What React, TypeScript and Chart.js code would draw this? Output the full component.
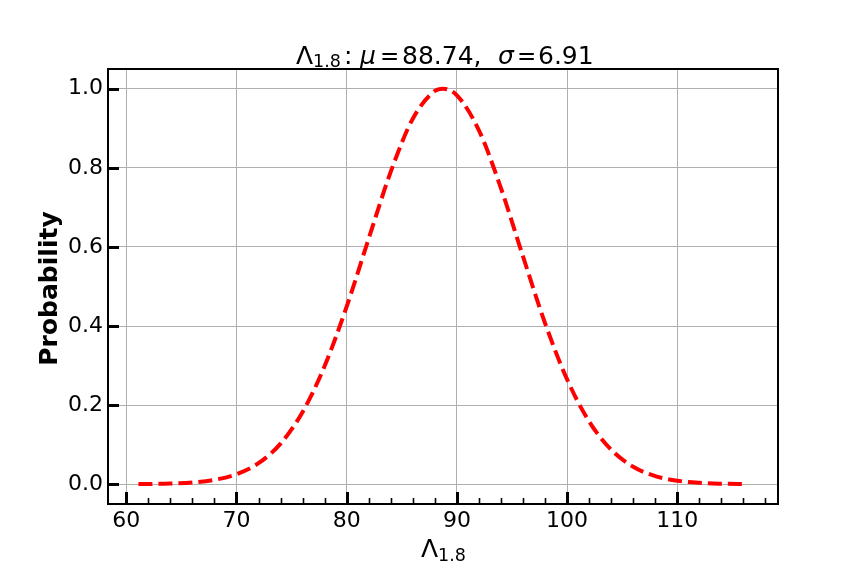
import React, { useEffect, useRef } from "react";
import { Chart, registerables } from "chart.js";

Chart.register(...registerables);

// Data (normalized Gaussian, mu=88.74, sigma=6.91)
const xValues = [61.1, 62, 64, 66, 68, 70, 72, 74, 76, 78, 80, 82, 84, 86, 88, 88.74, 90, 92, 94, 96, 98, 100, 102, 104, 106, 108, 110, 112, 114, 116, 116.38];
const yValues = [0.0003, 0.0006, 0.0017, 0.0045, 0.0111, 0.0253, 0.0532, 0.1028, 0.1828, 0.2989, 0.4494, 0.6214, 0.7903, 0.9244, 0.9943, 1.0, 0.9835, 0.8947, 0.7485, 0.5759, 0.4074, 0.2651, 0.1587, 0.0873, 0.0442, 0.0206, 0.0088, 0.0035, 0.0013, 0.0004, 0.0003];
const xTicks = [60, 70, 80, 90, 100, 110];
const xMinorTicks = [62, 64, 66, 68, 72, 74, 76, 78, 82, 84, 86, 88, 92, 94, 96, 98, 102, 104, 106, 108, 112, 114, 116, 118];
const yTicks = [0, 0.2, 0.4, 0.6, 0.8, 1.0];
const xRange = [58.34, 119.14];
const yRange = [-0.05, 1.05];

const FONT = '"DejaVu Sans"';

type Run = { t: string; size: number; italic?: boolean; bold?: boolean; dy?: number; at: number };

// runs placed at offsets (px) relative to the horizontal centre
function drawRuns(ctx: CanvasRenderingContext2D, runs: Run[], cx: number, baseline: number) {
  ctx.textAlign = "left";
  ctx.textBaseline = "alphabetic";
  ctx.fillStyle = "#000";
  runs.forEach((r) => {
    ctx.font = `${r.italic ? "italic " : ""}${r.bold ? "bold " : ""}${r.size}px ${FONT}`;
    ctx.fillText(r.t, cx + r.at, baseline + (r.dy || 0));
  });
}

const decorPlugin = {
  id: "decor",
  afterDraw(chart: any) {
    const ctx: CanvasRenderingContext2D = chart.ctx;
    const { left, right, top, bottom } = chart.chartArea;
    const xs = chart.scales.x;
    const ys = chart.scales.y;
    ctx.save();
    // ticks (inward)
    ctx.strokeStyle = "#000";
    ctx.lineWidth = 3;
    xTicks.forEach((v) => {
      const px = Math.round(xs.getPixelForValue(v)) + 0.5;
      ctx.beginPath();
      ctx.moveTo(px, bottom);
      ctx.lineTo(px, bottom - 12);
      ctx.stroke();
    });
    yTicks.forEach((v) => {
      const py = Math.round(ys.getPixelForValue(v)) + 0.5;
      ctx.beginPath();
      ctx.moveTo(left, py);
      ctx.lineTo(left + 11, py);
      ctx.stroke();
    });
    ctx.lineWidth = 1.6;
    xMinorTicks.forEach((v) => {
      const px = Math.round(xs.getPixelForValue(v)) + 0.5;
      ctx.beginPath();
      ctx.moveTo(px, bottom);
      ctx.lineTo(px, bottom - 6);
      ctx.stroke();
    });
    // spines
    ctx.lineWidth = 2;
    ctx.strokeRect(left, top, right - left, bottom - top);

    // title
    const cx = (left + right) / 2;
    drawRuns(
      ctx,
      [
        { t: "Λ", size: 25, at: -147 },
        { t: "1.8", size: 17.5, dy: 3, at: -130 },
        { t: ":", size: 25, at: -99 },
        { t: "μ", size: 25, italic: true, at: -83 },
        { t: "=", size: 23, at: -63 },
        { t: "88.74,", size: 25, at: -41 },
        { t: "σ", size: 25, italic: true, at: 55 },
        { t: "=", size: 23, at: 74 },
        { t: "6.91", size: 25, at: 95 },
      ],
      cx,
      64
    );

    // x label
    drawRuns(
      ctx,
      [
        { t: "Λ", size: 25, at: -22 },
        { t: "1.8", size: 17.5, dy: 4, at: -5 },
      ],
      cx,
      557
    );

    // y label
    ctx.save();
    ctx.translate(57, (top + bottom) / 2 + 2);
    ctx.rotate(-Math.PI / 2);
    ctx.font = `bold 25px ${FONT}`;
    ctx.textAlign = "center";
    ctx.textBaseline = "alphabetic";
    ctx.fillStyle = "#000";
    ctx.fillText("Probability", 0, 0);
    ctx.restore();

    ctx.restore();
  },
};

export default function App() {
  const ref = useRef<HTMLCanvasElement | null>(null);
  useEffect(() => {
    if (!ref.current) return;
    const chart = new Chart(ref.current, {
      type: "scatter",
      data: {
        datasets: [
          {
            data: xValues.map((x, i) => ({ x, y: yValues[i] })),
            showLine: true,
            borderColor: "#ff0000",
            borderWidth: 4,
            borderDash: [14, 6],
            pointRadius: 0,
            fill: false,
            cubicInterpolationMode: "monotone",
          } as any,
        ],
      },
      options: {
        responsive: false,
        animation: false,
        devicePixelRatio: 1,
        layout: { padding: { top: 69, right: 86, left: 0, bottom: 0 } },
        plugins: {
          legend: { display: false },
          title: { display: false },
          tooltip: { enabled: false },
        },
        scales: {
          x: {
            type: "linear",
            min: xRange[0],
            max: xRange[1],
            afterBuildTicks: (s: any) => {
              s.ticks = xTicks.map((v) => ({ value: v }));
            },
            afterFit: (s: any) => {
              s.height = 72;
            },
            grid: { color: "#b0b0b0", lineWidth: 1, drawTicks: false },
            border: { display: false },
            ticks: {
              font: { family: "DejaVu Sans", size: 22 },
              color: "#000",
              padding: 4,
              maxRotation: 0,
              autoSkip: false,
              callback: (v: any) => String(v),
            },
          },
          y: {
            type: "linear",
            min: yRange[0],
            max: yRange[1],
            afterBuildTicks: (s: any) => {
              s.ticks = yTicks.map((v) => ({ value: v }));
            },
            afterFit: (s: any) => {
              s.width = 108;
            },
            grid: { color: "#b0b0b0", lineWidth: 1, drawTicks: false },
            border: { display: false },
            ticks: {
              font: { family: "DejaVu Sans", size: 22 },
              color: "#000",
              padding: 5,
              autoSkip: false,
              callback: (v: any) => Number(v).toFixed(1),
            },
          },
        },
      },
      plugins: [decorPlugin],
    });
    return () => chart.destroy();
  }, []);
  return (
    <div style={{ position: "fixed", left: 0, top: 0, width: 864, height: 576, background: "#fff" }}>
      <canvas ref={ref} width={864} height={576} style={{ width: 864, height: 576 }} />
    </div>
  );
}
